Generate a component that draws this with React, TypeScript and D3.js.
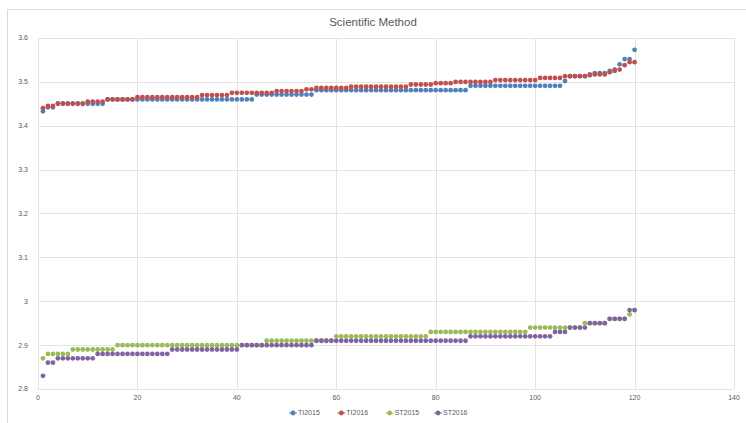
import React from 'react';
import * as d3 from 'd3';

const title = 'Scientific Method';
const seriesNames = ['TI2015', 'TI2016', 'ST2015', 'ST2016'];
const seriesColors = ['#4F81BD', '#C0504D', '#9BBB59', '#8064A2'];
const xTicks = [0, 20, 40, 60, 80, 100, 120, 140];
const yTicks = [2.8, 2.9, 3, 3.1, 3.2, 3.3, 3.4, 3.5, 3.6];

// values for respondents 1..120, sorted
const ti2015 = [
  3.433, 3.442, 3.442, 3.451, 3.451, 3.451, 3.451, 3.451, 3.451, 3.45,
  3.45, 3.45, 3.45, 3.46, 3.46, 3.46, 3.46, 3.46, 3.46, 3.46,
  3.46, 3.46, 3.46, 3.46, 3.46, 3.46, 3.46, 3.46, 3.46, 3.46,
  3.46, 3.46, 3.46, 3.46, 3.46, 3.46, 3.46, 3.46, 3.46, 3.46,
  3.46, 3.46, 3.46, 3.471, 3.471, 3.471, 3.471, 3.471, 3.471, 3.471,
  3.471, 3.471, 3.471, 3.471, 3.471, 3.481, 3.481, 3.481, 3.481, 3.481,
  3.481, 3.481, 3.481, 3.481, 3.481, 3.481, 3.481, 3.481, 3.481, 3.481,
  3.481, 3.481, 3.481, 3.481, 3.481, 3.481, 3.481, 3.481, 3.481, 3.481,
  3.481, 3.481, 3.481, 3.481, 3.481, 3.481, 3.491, 3.491, 3.491, 3.491,
  3.491, 3.491, 3.491, 3.491, 3.491, 3.491, 3.491, 3.491, 3.491, 3.491,
  3.491, 3.491, 3.491, 3.491, 3.491, 3.502, 3.513, 3.513, 3.513, 3.513,
  3.515, 3.52, 3.52, 3.52, 3.525, 3.525, 3.54, 3.552, 3.552, 3.573,
];

const ti2016 = [
  3.44, 3.445, 3.445, 3.45, 3.45, 3.45, 3.45, 3.45, 3.45, 3.455,
  3.455, 3.455, 3.455, 3.46, 3.46, 3.46, 3.46, 3.46, 3.46, 3.465,
  3.465, 3.465, 3.465, 3.465, 3.465, 3.465, 3.465, 3.465, 3.465, 3.465,
  3.465, 3.465, 3.47, 3.47, 3.47, 3.47, 3.47, 3.47, 3.475, 3.475,
  3.475, 3.475, 3.475, 3.475, 3.475, 3.475, 3.475, 3.479, 3.479, 3.479,
  3.479, 3.479, 3.479, 3.483, 3.483, 3.486, 3.486, 3.486, 3.486, 3.486,
  3.486, 3.486, 3.489, 3.489, 3.489, 3.489, 3.489, 3.489, 3.489, 3.489,
  3.489, 3.489, 3.489, 3.489, 3.494, 3.494, 3.494, 3.494, 3.494, 3.497,
  3.497, 3.497, 3.497, 3.5, 3.5, 3.5, 3.5, 3.5, 3.5, 3.5,
  3.5, 3.504, 3.504, 3.504, 3.504, 3.504, 3.504, 3.504, 3.504, 3.504,
  3.509, 3.509, 3.509, 3.509, 3.509, 3.513, 3.513, 3.513, 3.513, 3.513,
  3.517, 3.517, 3.517, 3.517, 3.522, 3.528, 3.528, 3.538, 3.545, 3.545,
];

const st2015 = [
  2.87, 2.88, 2.88, 2.88, 2.88, 2.88, 2.89, 2.89, 2.89, 2.89,
  2.89, 2.89, 2.89, 2.89, 2.89, 2.9, 2.9, 2.9, 2.9, 2.9,
  2.9, 2.9, 2.9, 2.9, 2.9, 2.9, 2.9, 2.9, 2.9, 2.9,
  2.9, 2.9, 2.9, 2.9, 2.9, 2.9, 2.9, 2.9, 2.9, 2.9,
  2.9, 2.9, 2.9, 2.9, 2.9, 2.91, 2.91, 2.91, 2.91, 2.91,
  2.91, 2.91, 2.91, 2.91, 2.91, 2.91, 2.91, 2.91, 2.91, 2.92,
  2.92, 2.92, 2.92, 2.92, 2.92, 2.92, 2.92, 2.92, 2.92, 2.92,
  2.92, 2.92, 2.92, 2.92, 2.92, 2.92, 2.92, 2.92, 2.93, 2.93,
  2.93, 2.93, 2.93, 2.93, 2.93, 2.93, 2.93, 2.93, 2.93, 2.93,
  2.93, 2.93, 2.93, 2.93, 2.93, 2.93, 2.93, 2.93, 2.94, 2.94,
  2.94, 2.94, 2.94, 2.94, 2.94, 2.94, 2.94, 2.94, 2.94, 2.95,
  2.95, 2.95, 2.95, 2.95, 2.96, 2.96, 2.96, 2.96, 2.97, 2.98,
];

const st2016 = [
  2.83, 2.86, 2.86, 2.87, 2.87, 2.87, 2.87, 2.87, 2.87, 2.87,
  2.87, 2.88, 2.88, 2.88, 2.88, 2.88, 2.88, 2.88, 2.88, 2.88,
  2.88, 2.88, 2.88, 2.88, 2.88, 2.88, 2.89, 2.89, 2.89, 2.89,
  2.89, 2.89, 2.89, 2.89, 2.89, 2.89, 2.89, 2.89, 2.89, 2.89,
  2.9, 2.9, 2.9, 2.9, 2.9, 2.9, 2.9, 2.9, 2.9, 2.9,
  2.9, 2.9, 2.9, 2.9, 2.9, 2.91, 2.91, 2.91, 2.91, 2.91,
  2.91, 2.91, 2.91, 2.91, 2.91, 2.91, 2.91, 2.91, 2.91, 2.91,
  2.91, 2.91, 2.91, 2.91, 2.91, 2.91, 2.91, 2.91, 2.91, 2.91,
  2.91, 2.91, 2.91, 2.91, 2.91, 2.91, 2.92, 2.92, 2.92, 2.92,
  2.92, 2.92, 2.92, 2.92, 2.92, 2.92, 2.92, 2.92, 2.92, 2.92,
  2.92, 2.92, 2.92, 2.93, 2.93, 2.93, 2.94, 2.94, 2.94, 2.94,
  2.95, 2.95, 2.95, 2.95, 2.96, 2.96, 2.96, 2.96, 2.98, 2.98,
];

const allSeries = [ti2015, ti2016, st2015, st2016];

const W = 746;
const H = 423;
const margin = { top: 38, right: 12, bottom: 34, left: 38 };
const font = '"Liberation Sans", Arial, sans-serif';

export default function App() {
  const x = d3.scaleLinear().domain([0, 140]).range([margin.left, W - margin.right]);
  const y = d3.scaleLinear().domain([2.8, 3.6]).range([H - margin.bottom, margin.top]);

  const legendX = d3.scalePoint<string>().domain(seriesNames).range([293, 438]);

  return (
    <svg width={W} height={H} style={{ position: 'absolute', left: 0, top: 0, background: '#fff' }}>
      <rect x={7.5} y={9.5} width={W - 4} height={H} fill="#fff" stroke="#d9d9d9" />
      <text x={W / 2} y={26} textAnchor="middle" fontFamily={font} fontSize={11.5} fill="#595959">
        {title}
      </text>

      {yTicks.map(t => (
        <g key={'y' + t}>
          <line x1={x(0)} x2={x(140)} y1={Math.round(y(t)) + 0.5} y2={Math.round(y(t)) + 0.5} stroke="#e3e3e3" />
          <text x={28} y={y(t)} dy="0.35em" textAnchor="end" fontFamily={font} fontSize={7} fill="#595959">
            {d3.format('~g')(t)}
          </text>
        </g>
      ))}
      {xTicks.map(t => (
        <g key={'x' + t}>
          <line x1={Math.round(x(t)) + 0.5} x2={Math.round(x(t)) + 0.5} y1={y(3.6)} y2={y(2.8)} stroke="#e3e3e3" />
          <text x={x(t)} y={y(2.8) + 9} dy="0.35em" textAnchor="middle" fontFamily={font} fontSize={7} fill="#595959">
            {t}
          </text>
        </g>
      ))}

      {allSeries.map((vals, si) => (
        <g key={seriesNames[si]} fill={seriesColors[si]}>
          {vals.map((v, i) => (
            <circle key={i} cx={x(i + 1)} cy={y(v)} r={2.4} />
          ))}
        </g>
      ))}

      {seriesNames.map((name, si) => (
        <g key={'leg' + name} transform={`translate(${legendX(name)},413)`}>
          <line x1={-4} x2={4} stroke={seriesColors[si]} strokeWidth={1} />
          <circle r={2.4} fill={seriesColors[si]} />
          <text x={5} dy="0.35em" fontFamily={font} fontSize={7} fill="#595959">
            {name}
          </text>
        </g>
      ))}
    </svg>
  );
}
